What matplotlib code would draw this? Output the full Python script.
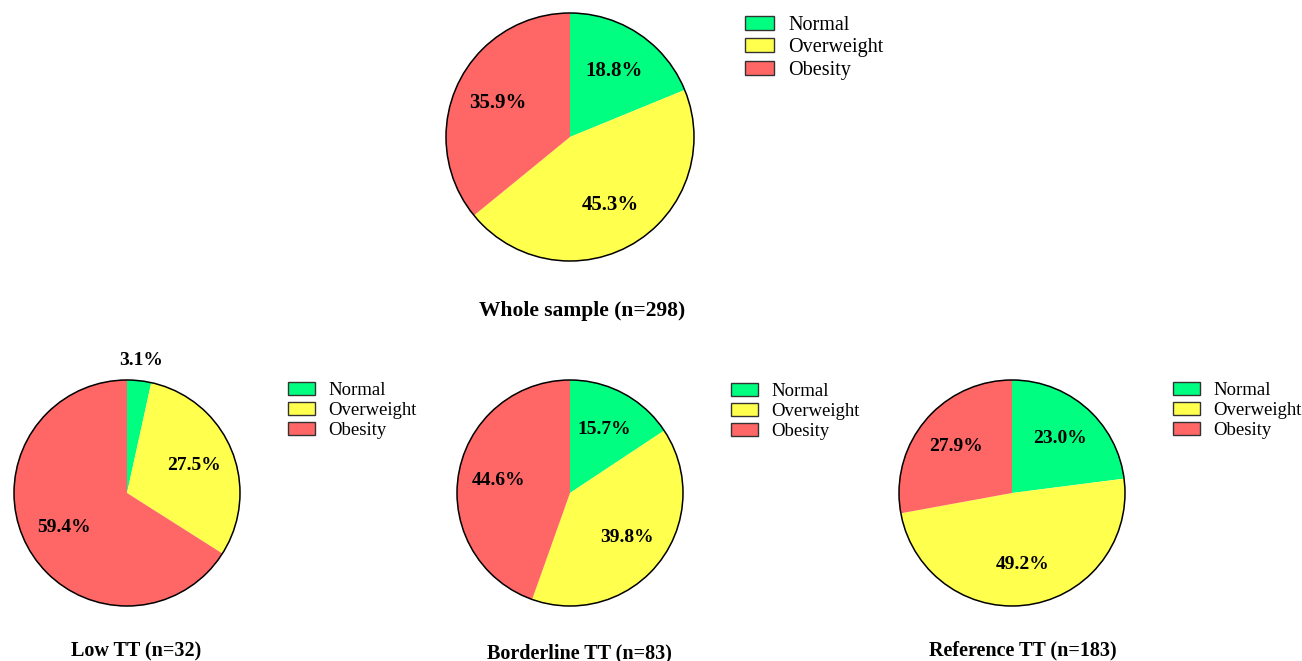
import matplotlib.pyplot as plt
from matplotlib.patches import Circle
import numpy as np

plt.rcParams["font.family"] = ["Liberation Serif", "DejaVu Serif"]

categories = ["Normal", "Overweight", "Obesity"]
colors = ["#00FF80", "#FFFF4D", "#FF6666"]

whole = [18.8, 45.3, 35.9]
low_tt = [3.1, 27.5, 59.4]
borderline_tt = [15.7, 39.8, 44.6]
reference_tt = [23.0, 49.2, 27.9]

titles = ["Whole sample (n=298)", "Low TT (n=32)",
          "Borderline TT (n=83)", "Reference TT (n=183)"]

W, H = 1302, 661


def draw_pie(values, cx, cy, r, title, title_xy, legend_xy, pct_size,
             leg_size, leg_space):
    fig = plt.gcf()
    ax = fig.add_axes([(cx - r) / W, (H - cy - r) / H, 2 * r / W, 2 * r / H])
    wedges, texts, autotexts = ax.pie(
        values, colors=colors, startangle=90, counterclock=False,
        autopct="%1.1f%%", pctdistance=0.64,
        wedgeprops=dict(linewidth=0),
        textprops=dict(fontsize=pct_size, fontweight="bold"))
    ax.add_patch(Circle((0, 0), 1, fill=False, lw=1.1, color="black",
                        clip_on=False))
    total = sum(values)
    for w, t, v in zip(wedges, autotexts, values):
        t.set_text(f"{v:.1f}%")
        if v / total < 0.06:
            ang = np.deg2rad((w.theta1 + w.theta2) / 2)
            t.set_position((1.18 * np.cos(ang), 1.18 * np.sin(ang)))
        t.set_clip_on(False)
    ax.set_xlim(-1, 1)
    ax.set_ylim(-1, 1)
    ax.set_aspect("auto")

    fig.text(title_xy[0] / W, 1 - title_xy[1] / H, title, ha="center",
             va="center", fontsize=pct_size + 0.5, fontweight="bold")
    fig.legend(wedges, categories, loc="upper left",
               bbox_to_anchor=(legend_xy[0] / W, 1 - legend_xy[1] / H),
               frameon=False, fontsize=leg_size, borderpad=0,
               borderaxespad=0, labelspacing=leg_space, handlelength=1.45,
               handleheight=0.7, handletextpad=0.7)
    for h in fig.legends[-1].legend_handles:
        h.set_edgecolor("#333333")
        h.set_linewidth(1.0)


def main():
    plt.figure(figsize=(W / 100, H / 100), dpi=100)

    draw_pie(whole, 570, 137, 124, titles[0], (582, 311), (745, 16),
             15, 14.5, 0.16)
    draw_pie(low_tt, 127, 493, 113, titles[1], (136, 651), (288, 382),
             14, 13.5, 0.15)
    draw_pie(borderline_tt, 570, 493, 113, titles[2], (579, 653), (731, 383),
             14, 13.5, 0.15)
    draw_pie(reference_tt, 1012, 493, 113, titles[3], (1023, 650), (1173, 382),
             14, 13.5, 0.15)

    plt.savefig("out.png", dpi=100)


if __name__ == "__main__":
    main()
